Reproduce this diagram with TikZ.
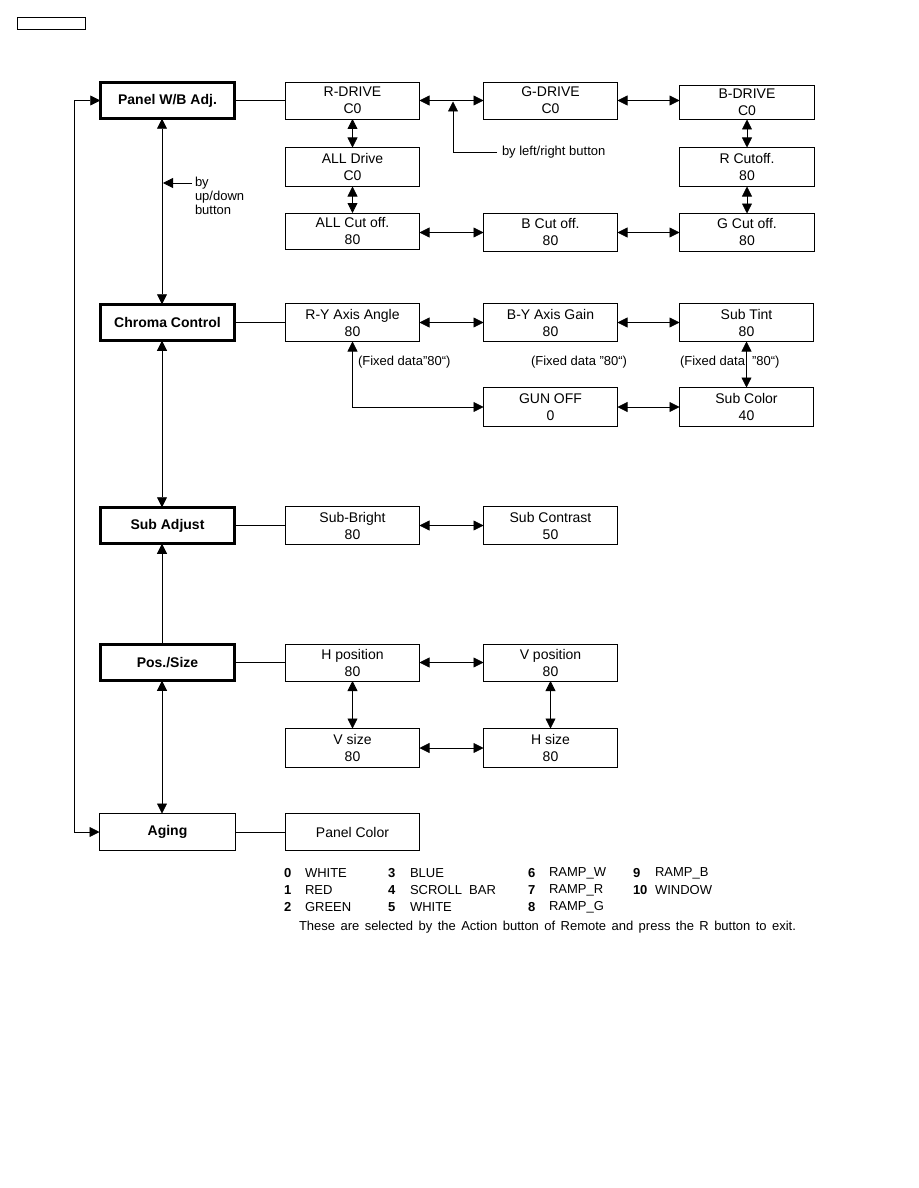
\documentclass[tikz,border=0pt]{standalone}
\usepackage{fontspec}
\setmainfont{Liberation Sans}
\usetikzlibrary{arrows.meta,calc}
\begin{document}
\begin{tikzpicture}[x=1pt,y=-1pt,
  every node/.style={inner sep=0pt, outer sep=0pt},
  sub/.style={draw, line width=0.8pt, align=center, font=\fontsize{14}{17}\selectfont, minimum width=134pt, minimum height=37pt},
  mainb/.style={draw, line width=2.6pt, align=center, font=\fontsize{14}{17}\selectfont\bfseries, minimum width=134.5pt, minimum height=36.5pt},
  note/.style={font=\fontsize{13}{14}\selectfont, align=left},
  legn/.style={anchor=west, font=\fontsize{13}{15}\selectfont\bfseries},
  legt/.style={anchor=west, font=\fontsize{13}{15}\selectfont},
  biarr/.style={{Triangle[length=10pt,width=10pt]}-{Triangle[length=10pt,width=10pt]}, line width=0.8pt},
  onearr/.style={-{Triangle[length=10pt,width=10pt]}, line width=0.8pt},
  plain/.style={line width=0.8pt}
]
\fill[white] (0,0) rectangle (918,1188);
\useasboundingbox (0,0) rectangle (918,1188);

% header box
\node[draw, line width=1.2pt, minimum width=68pt, minimum height=12pt] (hdr) at (51.5,23.5) {};

% Panel W/B
\node[mainb] (pwb) at (167.5,100.5) {Panel W/B Adj.};
\node[sub] (rdrive) at (352.5,100.5) {R-DRIVE\\C0};
\node[sub] (gdrive) at (550.5,100.5) {G-DRIVE\\C0};
\node[sub, minimum width=135pt, minimum height=34pt] (bdrive) at (747,102.5) {B-DRIVE\\C0};
\node[sub, minimum height=39pt] (alldrive) at (352.5,167) {ALL Drive\\C0};
\node[sub, minimum width=135pt, minimum height=39pt] (rcut) at (747,167) {R Cutoff.\\80};
\node[sub, minimum height=36pt] (allcut) at (352.5,231) {ALL Cut off.\\80};
\node[sub, minimum height=38pt] (bcut) at (550.5,232.5) {B Cut off.\\80};
\node[sub, minimum width=135pt, minimum height=38pt] (gcut) at (747,232.5) {G Cut off.\\80};

\draw[plain] (pwb.east) -- (rdrive.west);
\draw[biarr] (rdrive.east) -- (gdrive.west);
\draw[biarr] (gdrive.east) -- (gdrive.east -| bdrive.west);
\draw[biarr] (rdrive.south) -- (alldrive.north);
\draw[biarr] (alldrive.south) -- (allcut.north);
\draw[biarr] (bdrive.south) -- (rcut.north);
\draw[biarr] (rcut.south) -- (gcut.north);
\draw[biarr] (bcut.west -| allcut.east) -- (bcut.west);
\draw[biarr] (bcut.east) -- (gcut.west);

% left/right annotation
\coordinate (lrs) at (497,152);
\coordinate (lrc) at (453,152);
\coordinate (lre) at (453,101.5);
\draw[onearr] (lrs) -- (lrc) -- (lre);
\node[note, anchor=west] (lrtxt) at (502,152) {by left/right button};

% Chroma control
\node[mainb] (chroma) at (167.5,322.5) {Chroma Control};
\node[sub, minimum height=38pt] (ry) at (352.5,322.5) {R-Y Axis Angle\\80};
\node[sub, minimum height=38pt] (by) at (550.5,322.5) {B-Y Axis Gain\\80};
\node[sub, minimum height=38pt] (subtint) at (746.5,322.5) {Sub Tint\\80};
\node[sub, minimum height=39pt] (gunoff) at (550.5,407) {GUN OFF\\0};
\node[sub, minimum height=39pt] (subcolor) at (746.5,407) {Sub Color\\40};

\draw[plain] (chroma.east) -- (ry.west);
\draw[biarr] (ry.east) -- (by.west);
\draw[biarr] (by.east) -- (subtint.west);
\draw[biarr] (subtint.south) -- (subcolor.north);
\draw[biarr] (gunoff.east) -- (subcolor.west);
\draw[biarr] (ry.south) -- (ry.south |- gunoff.west) -- (gunoff.west);

\node[note, anchor=west] (fd1) at (358,362) {(Fixed data"80“)};
\node[note, anchor=west] (fd2) at (531,362) {(Fixed data "80“)};
\node[note, anchor=west] (fd3a) at (680,362) {(Fixed data};
\node[note, anchor=west] (fd3b) at (752,362) {"80“)};

% Sub adjust
\node[mainb] (subadj) at (167.5,525.5) {Sub Adjust};
\node[sub, minimum height=38pt] (subbright) at (352.5,525.5) {Sub-Bright\\80};
\node[sub, minimum height=38pt] (subcontrast) at (550.5,525.5) {Sub Contrast\\50};
\draw[plain] (subadj.east) -- (subbright.west);
\draw[biarr] (subbright.east) -- (subcontrast.west);

% Pos./Size
\node[mainb] (possize) at (167.5,662.5) {Pos./Size};
\node[sub] (hpos) at (352.5,662.5) {H position\\80};
\node[sub] (vpos) at (550.5,662.5) {V position\\80};
\node[sub, minimum height=39pt] (vsize) at (352.5,748) {V size\\80};
\node[sub, minimum height=39pt] (hsize) at (550.5,748) {H size\\80};
\draw[plain] (possize.east) -- (hpos.west);
\draw[biarr] (hpos.east) -- (vpos.west);
\draw[biarr] (hpos.south) -- (vsize.north);
\draw[biarr] (vpos.south) -- (hsize.north);
\draw[biarr] (vsize.east) -- (hsize.west);

% Aging
\node[sub, font=\fontsize{14}{17}\selectfont\bfseries, minimum width=136pt, minimum height=37pt] (aging) at (167.5,832) {Aging};
\node[sub] (panelcolor) at (352.5,832) {Panel Color};
\draw[plain] (aging.east) -- (panelcolor.west);

% vertical links on the left
\coordinate (lx) at (162,0);
\draw[biarr] (pwb.south -| lx) -- (chroma.north -| lx);
\draw[biarr] (chroma.south -| lx) -- (subadj.north -| lx);
\draw[onearr] (possize.north -| lx) -- (subadj.south -| lx);
\draw[biarr] (possize.south -| lx) -- (aging.north -| lx);

% up/down annotation
\coordinate (uds) at (192,183);
\coordinate (ude) at (163,183);
\draw[onearr] (uds) -- (ude);
\node[note, anchor=north west] (udtxt) at (195,177.5) {by\\up/down\\button};

% loop
\coordinate (loopx) at (74,0);
\draw[biarr] (pwb.west) -- (pwb.west -| loopx) -- (aging.west -| loopx) -- (aging.west);

% legend
\node[legn] (n0) at (284,873) {0};
\node[legt] (t0) at (305,873) {WHITE};
\node[legn] (n1) at (284,890) {1};
\node[legt] (t1) at (305,890) {RED};
\node[legn] (n2) at (284,907) {2};
\node[legt] (t2) at (305,907) {GREEN};
\node[legn] (n3) at (388,873) {3};
\node[legt] (t3) at (410,873) {BLUE};
\node[legn] (n4) at (388,890) {4};
\node[legt] (t4) at (410,890) {SCROLL\ \ BAR};
\node[legn] (n5) at (388,907) {5};
\node[legt] (t5) at (410,907) {WHITE};
\node[legn] (n6) at (528,873) {6};
\node[legt] (t6) at (549,873) {RAMP\_W};
\node[legn] (n7) at (528,890) {7};
\node[legt] (t7) at (549,890) {RAMP\_R};
\node[legn] (n8) at (528,907) {8};
\node[legt] (t8) at (549,907) {RAMP\_G};
\node[legn] (n9) at (633,873) {9};
\node[legt] (t9) at (655,873) {RAMP\_B};
\node[legn] (n10) at (633,890) {10};
\node[legt] (t10) at (655,890) {WINDOW};
\node[legt] (sentence) at (299,927) {\makebox[497pt][s]{These are selected by the Action button of Remote and press the R button to exit.}};
\end{tikzpicture}
\end{document}
